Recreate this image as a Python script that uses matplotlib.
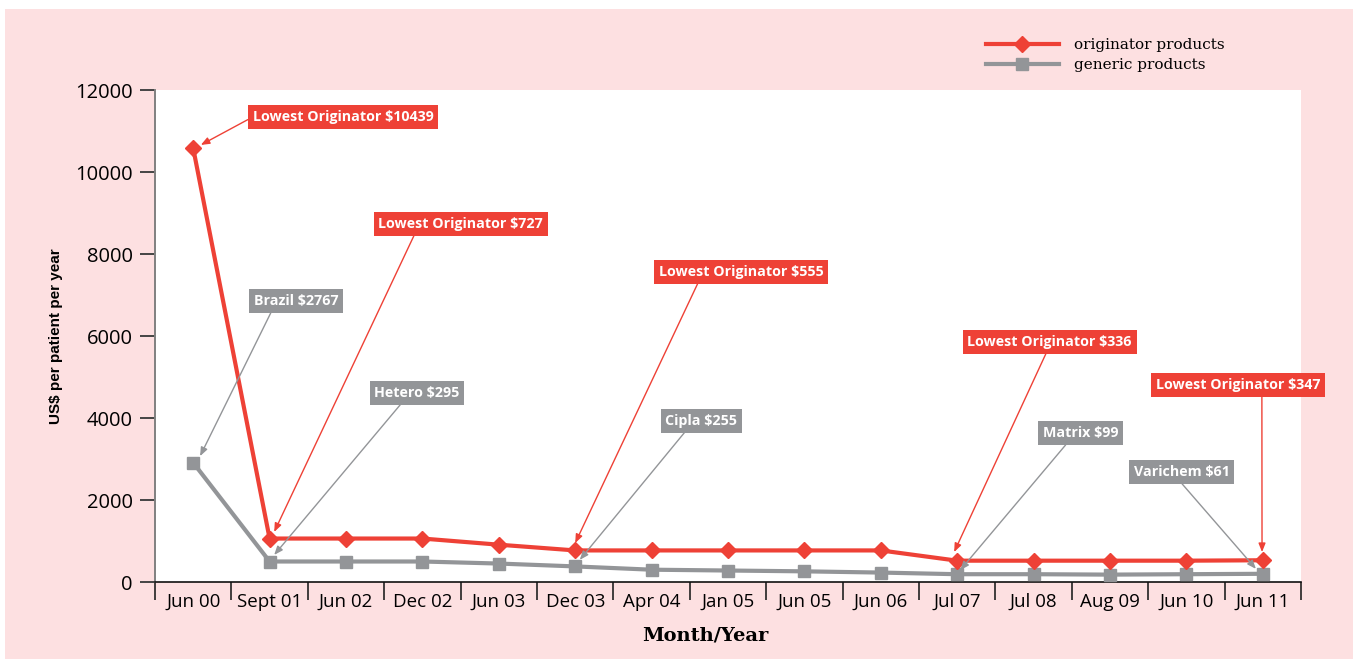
import numpy as np
import matplotlib.pyplot as plt
from matplotlib.patches import Rectangle

RED = '#EE4136'
GRAY = '#939598'
PINK = '#FDE0E1'

months = ['Jun 00', 'Sept 01', 'Jun 02', 'Dec 02', 'Jun 03', 'Dec 03', 'Apr 04',
          'Jan 05', 'Jun 05', 'Jun 06', 'Jul 07', 'Jul 08', 'Aug 09', 'Jun 10', 'Jun 11']
originator = [10580, 1060, 1060, 1060, 910, 770, 770, 770, 770, 770, 520, 520, 520, 520, 530]
generic = [2910, 500, 500, 500, 450, 380, 300, 280, 260, 230, 190, 190, 180, 190, 200]

# annotation labels, the month they point at and their colour
notes = ['Lowest Originator $10439', 'Lowest Originator $727', 'Lowest Originator $555',
         'Lowest Originator $336', 'Lowest Originator $347',
         'Brazil $2767', 'Hetero $295', 'Cipla $255', 'Matrix $99', 'Varichem $61']
note_kind = ['o', 'o', 'o', 'o', 'o', 'g', 'g', 'g', 'g', 'g']

# layout of the callouts (tip, box centre in data units, arrow start on the box)
tips = [(0.10, 10660), (1.06, 1220), (5.0, 950), (9.96, 730), (13.99, 730),
        (0.09, 3070), (1.06, 660), (5.06, 540), (10.04, 290), (13.91, 320)]
boxes = [(1.96, 11340), (3.50, 8730), (7.17, 7560), (11.21, 5850), (13.68, 4800),
         (1.345, 6850), (2.93, 4610), (6.65, 3930), (11.62, 3630), (12.94, 2680)]
rel = [(0, 0.5), (0.23, 0), (0.25, 0), (0.49, 0), (0.643, 0),
       (0.23, 0), (0.35, 0), (0.32, 0), (0.35, 0), (0.46, 0)]


def main():
    fig = plt.figure(figsize=(13.53, 6.59), dpi=100)
    fig.patch.set_facecolor('white')
    fig.patches.append(Rectangle((5 / 1353, 0), 1, 1 - 9 / 659, transform=fig.transFigure,
                                 facecolor=PINK, edgecolor='none', zorder=-10))

    ax = fig.add_axes([155 / 1353, 1 - 582 / 659, 1146 / 1353, 492 / 659])
    ax.set_facecolor('white')
    x = np.arange(len(months))

    ax.plot(x, generic, color=GRAY, lw=3, marker='s', ms=9, zorder=3, label='generic products')
    ax.plot(x, originator, color=RED, lw=3, marker='D', ms=8.5, zorder=4, label='originator products')

    ax.set_xlim(-0.5, len(months) - 0.5)
    ax.set_ylim(0, 12000)

    ax.set_xticks(x)
    ax.set_xticklabels(months, fontfamily='Open Sans', fontsize=13.5)
    ax.set_xticks(np.arange(-0.5, len(months), 1), minor=True)
    ax.tick_params(axis='x', which='major', length=0, pad=8)
    ax.tick_params(axis='x', which='minor', length=13, width=1.2, color='#222222')

    ax.set_yticks(range(0, 12001, 2000))
    ax.set_yticklabels([str(v) for v in range(0, 12001, 2000)], fontfamily='Open Sans', fontsize=14.5)
    ax.tick_params(axis='y', length=11, width=1.4, color='#444444', pad=5)

    for s in ['top', 'right']:
        ax.spines[s].set_visible(False)
    ax.spines['left'].set_color('#808080')
    ax.spines['left'].set_linewidth(1.4)
    ax.spines['bottom'].set_color('#111111')
    ax.spines['bottom'].set_linewidth(1.2)

    ax.set_ylabel('US$ per patient per year', fontfamily='Liberation Sans', fontweight='bold',
                  fontsize=11)
    ax.yaxis.set_label_coords(-92 / 1146, 0.5)
    ax.set_xlabel('Month/Year', fontfamily='DejaVu Serif', fontweight='bold', fontsize=14)
    ax.xaxis.set_label_coords(0.48, -44 / 492)

    for txt, kind, tip, box, rp in zip(notes, note_kind, tips, boxes, rel):
        c = RED if kind == 'o' else GRAY
        ax.annotate(txt, xy=tip, xytext=box, ha='center', va='center',
                    fontfamily='Open Sans', fontweight='bold', fontsize=10.3, color='white',
                    bbox=dict(boxstyle='square,pad=0.33', fc=c, ec='none'),
                    arrowprops=dict(arrowstyle='-|>,head_length=0.5,head_width=0.2', color=c,
                                    lw=1, relpos=rp, shrinkA=0, shrinkB=0),
                    annotation_clip=False, zorder=5)

    h, l = ax.get_legend_handles_labels()
    ax.legend(h[::-1], l[::-1], loc='center left', bbox_to_anchor=(978 / 1353, 1 - 55 / 659),
              bbox_transform=fig.transFigure, frameon=False, handlelength=4.8,
              handletextpad=1.0, labelspacing=0.4, borderpad=0,
              prop={'family': 'DejaVu Serif', 'size': 11})

    fig.savefig('out.png', dpi=100, facecolor=fig.get_facecolor())


if __name__ == "__main__":
    main()
